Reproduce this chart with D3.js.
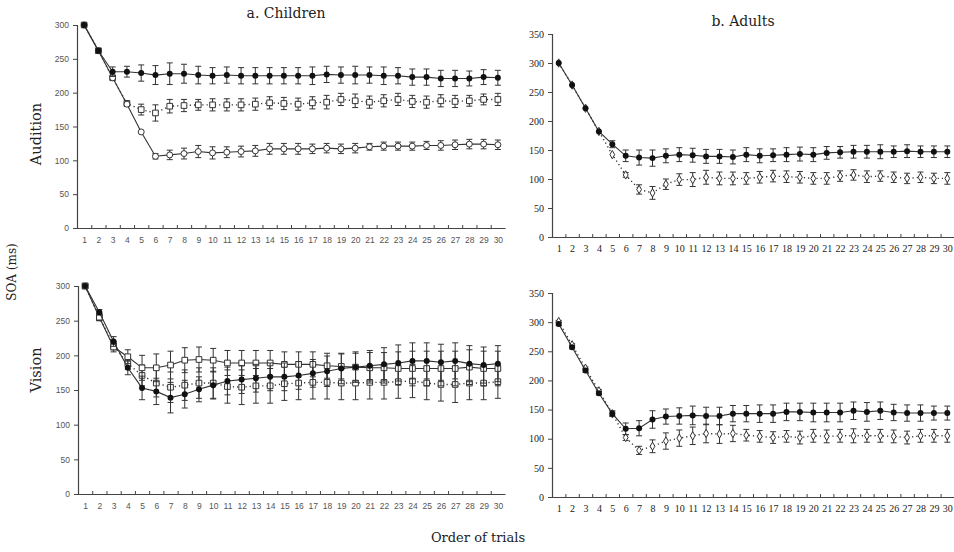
<!DOCTYPE html>
<html>
<head>
<meta charset="utf-8">
<script src="https://cdn.jsdelivr.net/npm/d3@7"></script>
<style>
  body { margin: 0; background: #fff; }
  svg { display: block; }
  .lab { font-family: "DejaVu Serif", "Liberation Serif", serif; fill: #222; }
</style>
</head>
<body>
<svg id="chart" width="954" height="552"></svg>
<script>
// trials 1..30
var trials = d3.range(1, 31);

// a. Children - Audition
var childAudFilled = [300,262,231,231,229,226,228,228,226,225,226,225,225,225,225,225,225,227,226,226,226,225,225,223,223,221,221,221,223,222];
var childAudFilledErr = [0,3,7,8,12,14,16,14,13,12,12,12,12,12,12,12,13,12,12,13,12,13,12,12,12,12,12,11,11,11];
var childAudOpen = [300,262,222,183,142,106,108,110,113,111,112,113,114,117,117,117,117,118,117,118,120,121,121,121,122,122,123,124,124,123];
var childAudOpenErr = [0,0,0,0,0,4,7,8,9,9,8,8,8,8,8,8,7,7,7,7,5,6,6,6,6,7,7,7,7,7];
var childAudSquare = [300,262,222,184,175,170,180,181,182,182,182,182,183,185,184,183,185,186,190,188,186,188,190,187,186,188,187,188,190,190];
var childAudSquareErr = [0,0,0,4,8,12,10,9,8,9,9,9,9,9,9,9,9,10,9,10,9,9,9,9,9,9,9,8,8,9];

// a. Children - Vision
var childVisFilled = [300,262,220,182,153,148,139,144,151,157,163,165,167,169,169,171,174,177,181,183,185,187,189,192,192,190,192,188,186,188];
var childVisFilledErr = [0,4,7,10,17,19,22,20,18,20,20,20,20,20,20,20,20,22,22,22,22,24,26,26,26,26,26,26,26,26];
var childVisOpen = [300,255,212,198,182,182,186,193,194,193,189,189,189,189,187,187,187,185,184,183,182,182,181,181,181,181,181,183,181,181];
var childVisOpenErr = [0,5,7,10,18,20,20,18,18,17,18,18,18,18,18,18,18,18,18,20,22,22,24,25,25,25,25,25,25,25];
var childVisSquare = [300,255,214,188,171,160,154,157,160,160,155,154,156,156,159,160,161,161,160,160,161,161,162,163,160,158,158,160,160,162];
var childVisSquareErr = [0,5,6,8,15,20,22,22,22,22,24,25,25,25,24,24,24,24,24,24,24,24,24,24,24,24,26,24,24,24];

// b. Adults - Audition
var adultAudFilled = [300,262,222,182,160,140,137,136,140,142,141,139,139,138,142,140,141,142,143,142,145,146,147,147,147,147,148,147,147,147];
var adultAudFilledErr = [0,0,0,0,6,10,13,14,12,12,12,12,12,12,12,12,11,12,12,12,11,10,11,11,12,10,11,10,10,10];
var adultAudOpen = [300,262,222,182,142,107,82,76,91,99,99,103,101,101,101,103,105,104,103,101,101,105,107,104,105,103,101,103,101,101];
var adultAudOpenErr = [0,0,0,0,0,4,8,11,9,10,12,12,11,11,10,10,10,10,10,10,10,9,9,10,9,9,9,9,9,10];

// b. Adults - Vision
var adultVisFilled = [297,257,217,178,143,117,118,133,138,139,140,139,139,143,143,143,143,146,146,145,145,145,148,146,148,145,144,144,144,144];
var adultVisFilledErr = [3,3,3,3,5,10,13,15,13,14,16,15,15,14,14,15,15,15,15,16,16,16,15,16,15,14,14,14,12,12];
var adultVisOpen = [301,261,221,182,143,102,80,87,96,101,105,109,108,109,106,104,102,104,102,105,104,105,105,105,105,104,102,105,105,105];
var adultVisOpenErr = [2,2,2,2,3,5,7,11,14,14,15,16,16,14,10,10,10,10,11,11,11,11,12,11,11,11,11,11,11,11];

var yTicksChild = [0,50,100,150,200,250,300];
var yTicksAdult = [0,50,100,150,200,250,300,350];

var svg = d3.select("#chart");

var panels = [
  { x: [77, 505], y: [228, 25], yMax: 300, ticks: yTicksChild, child: true,
    series: [
      { v: childAudSquare, e: childAudSquareErr, mark: "square", dash: "1.2,3" },
      { v: childAudOpen, e: childAudOpenErr, mark: "open", dash: null },
      { v: childAudFilled, e: childAudFilledErr, mark: "filled", dash: null }
    ] },
  { x: [78, 505], y: [494, 286], yMax: 300, ticks: yTicksChild, child: true,
    series: [
      { v: childVisSquare, e: childVisSquareErr, mark: "square", dash: "1.2,3" },
      { v: childVisOpen, e: childVisOpenErr, mark: "square", dash: null },
      { v: childVisFilled, e: childVisFilledErr, mark: "filled", dash: null }
    ] },
  { x: [552, 954], y: [237, 34], yMax: 350, ticks: yTicksAdult, child: false,
    series: [
      { v: adultAudOpen, e: adultAudOpenErr, mark: "small", dash: "1.2,3" },
      { v: adultAudFilled, e: adultAudFilledErr, mark: "filled", dash: null }
    ] },
  { x: [552, 954], y: [497, 293], yMax: 350, ticks: yTicksAdult, child: false,
    series: [
      { v: adultVisOpen, e: adultVisOpenErr, mark: "small", dash: "1.2,3" },
      { v: adultVisFilled, e: adultVisFilledErr, mark: "filled", dash: null }
    ] }
];

panels.forEach(function(p) {
  var x = d3.scaleLinear().domain([0.5, 30.5]).range(p.x);
  var y = d3.scaleLinear().domain([0, p.yMax]).range(p.y);
  var g = svg.append("g");
  var tickFont = p.child ? "Liberation Sans, DejaVu Sans, sans-serif" : "Liberation Serif, DejaVu Serif, serif";
  var tickColor = p.child ? "#555" : "#222";

  // y axis
  var ya = g.append("g")
    .attr("transform", "translate(" + p.x[0] + ",0)")
    .call(d3.axisLeft(y).tickValues(p.ticks).tickSize(4).tickPadding(4));
  // x axis labels
  var xa = g.append("g")
    .attr("transform", "translate(0," + p.y[0] + ")")
    .call(d3.axisBottom(x).tickValues(trials).tickSize(0).tickPadding(p.child ? 9 : 8));
  // x axis boundary ticks pointing up
  var xb = g.append("g")
    .attr("transform", "translate(0," + p.y[0] + ")")
    .call(d3.axisBottom(x).tickValues(d3.range(1.5, 30.5, 1)).tickSize(-3).tickFormat(""));
  xb.select(".domain").remove();

  [ya, xa, xb].forEach(function(a) {
    a.selectAll("path.domain").attr("stroke", "#444").attr("stroke-width", 1.2);
    a.selectAll(".tick line").attr("stroke", "#444");
    a.selectAll(".tick text")
      .style("font-family", tickFont)
      .style("font-size", p.child ? "8.5px" : "10px")
      .attr("fill", tickColor);
  });

  p.series.forEach(function(s) {
    var pts = trials.map(function(t, i) { return { t: t, v: s.v[i], e: s.e[i] }; });
    // error bars
    var eb = g.append("g").attr("stroke", "#333").attr("stroke-width", 1)
      .selectAll("g").data(pts.filter(function(d) { return d.e > 0; })).enter().append("g");
    eb.append("line")
      .attr("x1", function(d) { return x(d.t); }).attr("x2", function(d) { return x(d.t); })
      .attr("y1", function(d) { return y(d.v - d.e); }).attr("y2", function(d) { return y(d.v + d.e); });
    eb.append("line")
      .attr("x1", function(d) { return x(d.t) - 3; }).attr("x2", function(d) { return x(d.t) + 3; })
      .attr("y1", function(d) { return y(d.v + d.e); }).attr("y2", function(d) { return y(d.v + d.e); });
    eb.append("line")
      .attr("x1", function(d) { return x(d.t) - 3; }).attr("x2", function(d) { return x(d.t) + 3; })
      .attr("y1", function(d) { return y(d.v - d.e); }).attr("y2", function(d) { return y(d.v - d.e); });

    // line
    g.append("path").datum(pts)
      .attr("fill", "none")
      .attr("stroke", "#333")
      .attr("stroke-width", s.dash ? 1.4 : 1.1)
      .attr("stroke-dasharray", s.dash)
      .attr("d", d3.line().x(function(d) { return x(d.t); }).y(function(d) { return y(d.v); }));

    // markers
    var m = g.append("g").selectAll("path").data(pts).enter().append("path")
      .attr("transform", function(d) { return "translate(" + x(d.t) + "," + y(d.v) + ")"; });
    if (s.mark === "filled") {
      m.attr("d", d3.symbol().type(d3.symbolCircle).size(28)).attr("fill", "#111");
    } else if (s.mark === "open") {
      m.attr("d", d3.symbol().type(d3.symbolCircle).size(28)).attr("fill", "#fff").attr("stroke", "#333");
    } else if (s.mark === "square") {
      m.attr("d", d3.symbol().type(d3.symbolSquare).size(32)).attr("fill", "#fff").attr("stroke", "#333");
    } else {
      m.attr("d", d3.symbol().type(d3.symbolDiamond).size(20)).attr("fill", "#fff").attr("stroke", "#333");
    }
  });
});

// titles and labels
svg.append("text").attr("class", "lab").attr("x", 286).attr("y", 18)
  .attr("text-anchor", "middle").style("font-size", "14px").text("a. Children");
svg.append("text").attr("class", "lab").attr("x", 743).attr("y", 26)
  .attr("text-anchor", "middle").style("font-size", "14px").text("b. Adults");
svg.append("text").attr("class", "lab").attr("transform", "translate(41,134) rotate(-90)")
  .attr("text-anchor", "middle").style("font-size", "14.5px").text("Audition");
svg.append("text").attr("class", "lab").attr("transform", "translate(41,370) rotate(-90)")
  .attr("text-anchor", "middle").style("font-size", "14.5px").text("Vision");
svg.append("text").attr("class", "lab").attr("transform", "translate(16,272) rotate(-90)")
  .attr("text-anchor", "middle").style("font-size", "12px").text("SOA (ms)");
svg.append("text").attr("class", "lab").attr("x", 478).attr("y", 542)
  .attr("text-anchor", "middle").style("font-size", "13px").text("Order of trials");
</script>
</body>
</html>
